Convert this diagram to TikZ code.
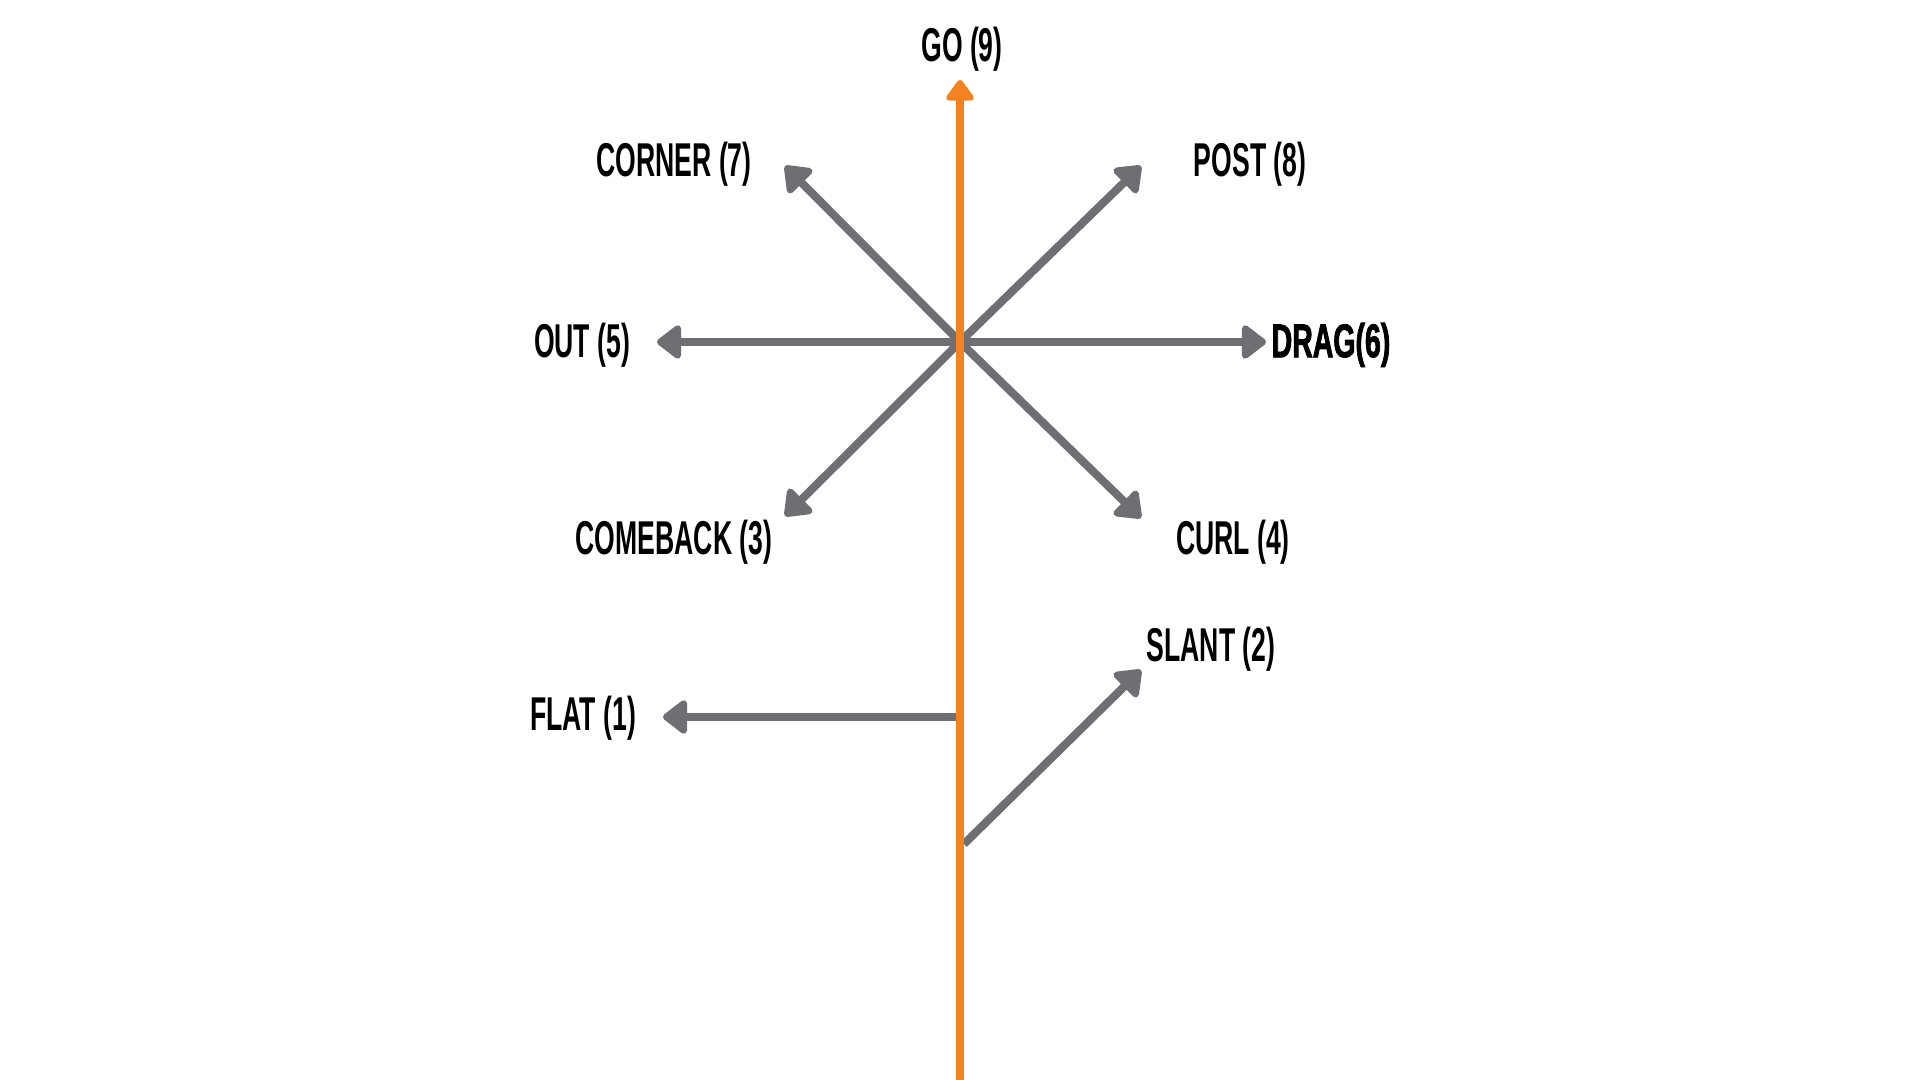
\documentclass[tikz,border=0pt]{standalone}
\usepackage{fontspec}
\usetikzlibrary{arrows.meta}
\newfontfamily\routefont[FakeStretch=0.56]{Liberation Sans}
\newfontfamily\dragfont[FakeStretch=0.6,FakeBold=1.5]{Liberation Sans}
\definecolor{routegray}{RGB}{110,110,115}
\definecolor{stemorange}{RGB}{245,130,32}

\tikzstyle{label}=[font=\routefont\bfseries\fontsize{13.5pt}{15pt}\selectfont,text=black,inner sep=0pt]
\tikzstyle{route}=[draw=routegray,line width=2.3pt,-{Triangle[length=7.5pt,width=11pt,round]}]
\tikzstyle{stem}=[draw=stemorange,line width=2.3pt,-{Triangle[length=6.5pt,width=9pt,round]}]

\begin{document}
\begin{tikzpicture}[x=0.01cm,y=-0.01cm]
\useasboundingbox[fill=white] (0,0) rectangle (1920,1080);
% stem
\coordinate (c) at (960,342);
\coordinate (bottom) at (960,1080);
\coordinate (go) at (960,80);
\node[label] (l9) at (962,49) {GO (9)};
% upper routes
\coordinate (corner) at (785,166);
\node[label] (l7) at (674,164) {CORNER (7)};
\coordinate (post) at (1141,166);
\node[label] (l8) at (1250,164) {POST (8)};
\coordinate (out) at (657,342);
\node[label] (l5) at (582,345) {OUT (5)};
\coordinate (drag) at (1266,342);
\node[label,font=\dragfont\bfseries\fontsize{13.5pt}{15pt}\selectfont] (l6) at (1331,345) {DRAG(6)};
\coordinate (comeback) at (785,516);
\node[label] (l3) at (674,542) {COMEBACK (3)};
\coordinate (curl) at (1141,518);
\node[label] (l4) at (1233,542) {CURL (4)};
% short routes
\coordinate (slant_s) at (964,844);
\coordinate (slant) at (1141,670);
\node[label] (l2) at (1211,649) {SLANT (2)};
\coordinate (flat_s) at (957,717);
\coordinate (flat) at (663,717);
\node[label] (l1) at (583,718) {FLAT (1)};

\draw[route] (c) -- (corner);
\draw[route] (c) -- (post);
\draw[route] (c) -- (out);
\draw[route] (c) -- (drag);
\draw[route] (c) -- (comeback);
\draw[route] (c) -- (curl);
\draw[route] (slant_s) -- (slant);
\draw[route] (flat_s) -- (flat);
\draw[stem] (bottom) -- (go);
\end{tikzpicture}
\end{document}
